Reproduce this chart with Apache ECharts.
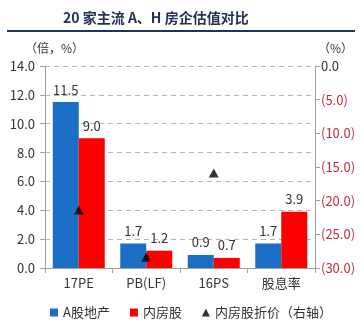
<!DOCTYPE html>
<html>
<head>
<meta charset="utf-8">
<script src="https://cdn.jsdelivr.net/npm/echarts@6/dist/echarts.min.js"></script>
<style>
  html, body { margin: 0; padding: 0; background: #fff; }
  #chart { width: 364px; height: 322px; }
</style>
</head>
<body>
<div id="chart"></div>
<script>
// Valuation metrics for 20 major A-share and H-share developers
var categories = ['17PE', 'PB(LF)', '16PS', '股息率'];
var aShareProperty = [11.5, 1.7, 0.9, 1.7];   // A股地产 (times / %)
var hkProperty = [9.0, 1.2, 0.7, 3.9];        // 内房股 (times / %)
var hkDiscount = [-21.4, -28.4, -15.9, null]; // 内房股折价, right axis (%)

var leftTicks = { min: 0, max: 14, interval: 2 };
var rightTicks = { min: -30, max: 0, interval: 5 };

var FONT = '"Noto Sans CJK SC", "Noto Sans", sans-serif';
var BLUE = '#1b6fc4';
var RED = '#fa0000';

var chart = echarts.init(document.getElementById('chart'), null, { renderer: 'canvas' });

chart.setOption({
  animation: false,
  textStyle: { fontFamily: FONT },
  grid: { left: 45, right: 49, top: 66, bottom: 54, containLabel: false },
  graphic: [
    {
      type: 'text', left: 63, top: 11,
      style: { text: '20 家主流 A、H 房企估值对比', font: 'bold 14px ' + FONT, fill: '#24324f' }
    },
    {
      type: 'line',
      shape: { x1: 7, y1: 31, x2: 355, y2: 31 },
      style: { stroke: '#1f3556', lineWidth: 2 }
    },
    {
      type: 'text', left: 25, top: 42,
      style: { text: '（倍，%）', font: '12px ' + FONT, fill: '#333' }
    },
    {
      type: 'text', left: 318, top: 42,
      style: { text: '（%）', font: '12px ' + FONT, fill: '#333' }
    }
  ],
  legend: {
    left: 45, top: 301,
    itemGap: 20,
    itemWidth: 8, itemHeight: 8,
    textStyle: { fontSize: 13, color: '#333', fontFamily: FONT },
    data: [
      { name: 'A股地产', icon: 'rect' },
      { name: '内房股', icon: 'rect' },
      { name: '内房股折价（右轴）', icon: 'triangle' }
    ]
  },
  xAxis: {
    type: 'category',
    data: categories,
    axisLine: { lineStyle: { color: '#a0a0a0' } },
    axisTick: { show: true, length: 5, lineStyle: { color: '#a0a0a0' } },
    axisLabel: { color: '#333', fontSize: 13, margin: 9 }
  },
  yAxis: [
    {
      type: 'value',
      min: leftTicks.min, max: leftTicks.max, interval: leftTicks.interval,
      axisLine: { show: true, lineStyle: { color: '#a0a0a0' } },
      axisTick: { show: true, length: 5, lineStyle: { color: '#a0a0a0' } },
      axisLabel: {
        color: '#333', fontSize: 13, margin: 10,
        formatter: function (v) { return v.toFixed(1); }
      },
      splitLine: { show: true, lineStyle: { color: '#b5b5b5', type: [5, 4] } }
    },
    {
      type: 'value',
      position: 'right',
      min: rightTicks.min, max: rightTicks.max, interval: rightTicks.interval,
      axisLine: { show: true, lineStyle: { color: '#a0a0a0' } },
      axisTick: { show: true, length: 5, lineStyle: { color: '#a0a0a0' } },
      splitLine: { show: false },
      axisLabel: {
        fontSize: 13, margin: 6,
        formatter: function (v) {
          if (v === 0) return '{z|0.0}';
          return '{n|(' + Math.abs(v).toFixed(1) + ')}';
        },
        rich: {
          z: { color: '#333', fontSize: 13, fontFamily: FONT },
          n: { color: '#c0303a', fontSize: 13, fontFamily: FONT }
        }
      }
    }
  ],
  series: [
    {
      name: 'A股地产', type: 'bar', data: aShareProperty,
      barWidth: 26, barGap: '0%',
      itemStyle: { color: BLUE },
      label: {
        show: true, position: 'top', color: '#333', fontSize: 13, distance: 6,
        formatter: function (p) { return p.value.toFixed(1); }
      }
    },
    {
      name: '内房股', type: 'bar', data: hkProperty,
      barWidth: 26,
      itemStyle: { color: RED },
      label: {
        show: true, position: 'top', color: '#333', fontSize: 13, distance: 6,
        formatter: function (p) { return p.value.toFixed(1); }
      }
    },
    {
      name: '内房股折价（右轴）', type: 'scatter', yAxisIndex: 1,
      data: hkDiscount,
      symbol: 'triangle', symbolSize: [10, 9],
      itemStyle: { color: '#000' },
      z: 5
    }
  ]
});
</script>
</body>
</html>
